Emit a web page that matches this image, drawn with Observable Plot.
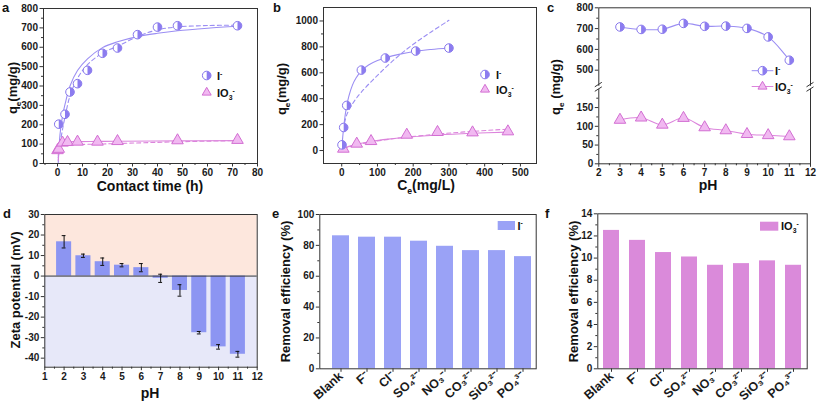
<!DOCTYPE html>
<html><head><meta charset="utf-8">
<script src="https://cdn.jsdelivr.net/npm/d3@7"></script>
<script src="https://cdn.jsdelivr.net/npm/@observablehq/plot@0.6"></script>
<style>
html,body{margin:0;padding:0;background:#fff;}
#fig{position:relative;width:817px;height:408px;overflow:hidden;background:#fff;}
</style></head><body><div id="fig"></div>
<script>
// ---------------- data ----------------
// (a) kinetics
const kinTimeI = [0.5, 3, 5, 8, 12, 18, 24, 32, 40, 48, 72];
const kinQI = [203, 254, 369, 412, 481, 569, 596, 665, 704, 711, 711];
const kinTimeIO3 = [0, 0.5, 2, 4, 8, 16, 24, 48, 72];
const kinQIO3 = [68, 75, 107, 110, 112, 112, 115, 119, 121];
const kinFitTimeI = [0.3, 1, 2, 3, 5, 8, 12, 18, 24, 32, 40, 48, 60, 72];
const kinSolidI = [5, 150, 245, 305, 400, 480, 540, 598, 628, 655, 672, 685, 698, 708];
const kinDashI = [30, 100, 175, 240, 349, 440, 510, 570, 605, 655, 690, 705, 712, 714];
const kinFitTimeIO3 = [0.3, 1, 2, 4, 8, 16, 24, 48, 72];
const kinSolidIO3 = [40, 95, 108, 112, 113, 114, 115, 117, 118];
const kinDashIO3 = [15, 80, 95, 97, 98, 100, 103, 112, 118];
// (b) isotherms
const isoCeI = [0.8, 5.5, 14, 55, 122, 207, 300];
const isoQI = [44, 178, 348, 621, 714, 768, 791];
const isoCeIO3 = [4.5, 42, 82, 182, 268, 366, 465];
const isoQIO3 = [13, 52, 72, 121, 142, 139, 147];
const isoFitCeI = [0.8, 2, 5.5, 10, 14, 20, 30, 40, 55, 75, 100, 122, 160, 207, 250, 300];
const isoSolidI = [44, 80, 180, 280, 345, 420, 505, 560, 615, 660, 695, 715, 742, 766, 780, 792];
const isoDashCeI = [8, 14, 30, 55, 100, 150, 200, 250, 300];
const isoDashI = [215, 275, 360, 451, 580, 709, 820, 915, 1005];
const isoFitCeIO3 = [4.5, 20, 42, 82, 130, 182, 268, 366, 465];
const isoSolidIO3 = [15, 32, 48, 70, 88, 102, 120, 133, 142];
const isoDashIO3 = [12, 28, 44, 66, 86, 103, 127, 148, 165];
// (c) effect of pH (broken y axis: lower 0–200, upper 420–800)
const pHValues = [3, 4, 5, 6, 7, 8, 9, 10, 11];
const pHQI = [708, 696, 697, 725, 711, 712, 701, 660, 548];
const pHQIO3 = [117, 123, 104, 122, 97, 89, 79, 76, 73];
const pHYTicks = [0, 50, 100, 150, 500, 600, 700, 800];
const pHYMinor = [25, 75, 125, 175, 550, 650, 750];
const pHBreak = [200, 420];
// (d) zeta potential
const zetaPH = [2, 3, 4, 5, 6, 7, 8, 9, 10, 11];
const zetaMV = [16.7, 9.9, 7.0, 5.3, 4.1, -1.1, -7.0, -27.6, -34.5, -38.1];
const zetaErr = [3.0, 0.8, 1.8, 0.8, 2.0, 2.0, 2.8, 0.6, 1.1, 1.4];
// (e, f) coexisting anions
const ions = ["Blank", "F⁻", "Cl⁻", "SO₄²⁻", "NO₃⁻", "CO₃²⁻", "SiO₃²⁻", "PO₄³⁻"];
const removalI = [86.2, 85.3, 85.3, 82.7, 79.4, 76.6, 76.6, 72.7];
const removalIO3 = [12.5, 11.6, 10.5, 10.1, 9.35, 9.5, 9.75, 9.35];

// ---------------- helpers ----------------
const FONT = "'Liberation Sans', Arial, Helvetica, sans-serif";
const AX = "#333";
const I_LINE = "#9b8ef3", I_FILL = "#8c7cef", I_STROKE = "#8676ec";
const IO3_LINE = "#dc84dc", IO3_FILL = "#f1b9f1", IO3_STROKE = "#d26ed2";
const fig = document.getElementById("fig");
const baseStyle = {fontFamily: FONT, fontSize: "10px", fontWeight: "bold", color: "#1a1a1a",
  background: "transparent", overflow: "visible", maxWidth: "none"};
const fmt = d => String(d);
const pts = (xs, ys) => xs.map((x, i) => ({x, y: ys[i]}));
const halfRight = {draw(ctx, size) { const r = Math.sqrt(size / Math.PI);
  ctx.moveTo(0, -r); ctx.arc(0, 0, r, -Math.PI / 2, Math.PI / 2); ctx.closePath(); }};

function place(svg, left, top) {
  svg.style.position = "absolute"; svg.style.left = left + "px"; svg.style.top = top + "px";
  fig.appendChild(svg); return svg;
}
function axes(o) {
  const m = [];
  if (o.xMajor !== false) m.push(Plot.axisX({ticks: o.xMajor, tickSize: 3.5, tickPadding: 2, label: null, stroke: AX,
    tickFormat: o.xFormat ?? fmt, tickRotate: o.xRotate, fontSize: o.xFontSize}));
  if (o.xMinor) m.push(Plot.axisX({ticks: o.xMinor, tickSize: 2, label: null, stroke: AX, tickFormat: () => ""}));
  m.push(Plot.axisY({ticks: o.yMajor, tickSize: 3.5, tickPadding: 2, label: null, stroke: AX, tickFormat: o.yFormat ?? fmt}));
  if (o.yMinor) m.push(Plot.axisY({ticks: o.yMinor, tickSize: 2, label: null, stroke: AX, tickFormat: () => ""}));
  return m;
}
function txt(svg, x, y, parts, {size = 13, anchor = "start", rotate = 0} = {}) {
  const t = d3.select(svg).append("text")
    .attr("transform", `translate(${x},${y})` + (rotate ? ` rotate(${rotate})` : ""))
    .attr("text-anchor", anchor).attr("font-size", size).attr("font-weight", "bold")
    .attr("font-family", FONT).attr("fill", "#111");
  if (typeof parts === "string") parts = [[parts, ""]];
  let shift = 0;
  for (const [s, kind] of parts) {
    const target = kind === "sub" ? size * 0.28 : kind === "sup" ? -size * 0.38 : 0;
    t.append("tspan").attr("dy", target - shift).attr("font-size", kind ? size * 0.62 : size).text(s);
    shift = target;
  }
  return t;
}
function legCircle(svg, cx, cy, r) {
  const g = d3.select(svg).append("g");
  g.append("circle").attr("cx", cx).attr("cy", cy).attr("r", r).attr("fill", "#fff").attr("stroke", I_STROKE);
  g.append("path").attr("d", `M${cx},${cy - r}A${r},${r} 0 0 1 ${cx},${cy + r}Z`).attr("fill", I_FILL);
}
function legTri(svg, cx, cy, r) {
  d3.select(svg).append("path").attr("transform", `translate(${cx},${cy})`)
    .attr("d", d3.symbol(d3.symbolTriangle2, r * r * Math.PI)())
    .attr("fill", IO3_FILL).attr("stroke", IO3_STROKE);
}
function markersI(data) {
  return [Plot.dot(data, {x: "x", y: "y", r: 4.3, fill: "#fff", stroke: I_STROKE, strokeWidth: 1}),
          Plot.dot(data, {x: "x", y: "y", r: 4.3, symbol: halfRight, fill: I_FILL})];
}
function markersIO3(data) {
  return [Plot.dot(data, {x: "x", y: "y", r: 4.3, symbol: "triangle", fill: IO3_FILL, stroke: IO3_STROKE, strokeWidth: 1})];
}
const minorBetween = (a, b, step) => d3.range(a + step / 2, b, step);

// ---------------- (a) ----------------
{
  const svg = Plot.plot({
    width: 270, height: 200, marginLeft: 43, marginRight: 13, marginTop: 8, marginBottom: 37,
    style: baseStyle,
    x: {domain: [-5.6, 80]}, y: {domain: [0, 800]},
    marks: [
      ...axes({xMajor: d3.range(0, 81, 10), xMinor: minorBetween(-10, 80, 10),
               yMajor: d3.range(0, 801, 100), yMinor: minorBetween(0, 800, 100)}),
      Plot.line(pts(kinFitTimeI, kinSolidI), {x: "x", y: "y", stroke: I_LINE, strokeWidth: 1.1, curve: "catmull-rom"}),
      Plot.line(pts(kinFitTimeI, kinDashI), {x: "x", y: "y", stroke: I_LINE, strokeWidth: 1.1, strokeDasharray: "4,3", curve: "catmull-rom"}),
      Plot.line(pts(kinFitTimeIO3, kinSolidIO3), {x: "x", y: "y", stroke: IO3_LINE, strokeWidth: 1.1, curve: "catmull-rom"}),
      Plot.line(pts(kinFitTimeIO3, kinDashIO3), {x: "x", y: "y", stroke: IO3_LINE, strokeWidth: 1.1, strokeDasharray: "4,3", curve: "catmull-rom"}),
      ...markersIO3(pts(kinTimeIO3, kinQIO3)),
      ...markersI(pts(kinTimeI, kinQI)),
      Plot.frame({stroke: AX})
    ]
  });
  place(svg, 0, 0);
  txt(svg, 2, 12, "a", {size: 13});
  txt(svg, 150, 191, "Contact time (h)", {size: 14, anchor: "middle"});
  txt(svg, 17, 88, [["q", ""], ["e", "sub"], ["(mg/g)", ""]], {size: 13, anchor: "middle", rotate: -90});
  legCircle(svg, 206.7, 75.5, 4.3); txt(svg, 217, 80, [["I", ""], ["-", "sup"]], {size: 11});
  legTri(svg, 206.7, 92.5, 4.3); txt(svg, 217, 97, [["IO", ""], ["3", "sub"], ["-", "sup"]], {size: 11});
}

// ---------------- (b) ----------------
{
  const svg = Plot.plot({
    width: 270, height: 200, marginLeft: 53, marginRight: 4, marginTop: 7, marginBottom: 37,
    style: baseStyle,
    x: {domain: [-51, 545]}, y: {domain: [-100, 1104]},
    marks: [
      ...axes({xMajor: d3.range(0, 501, 100), xMinor: minorBetween(0, 500, 100),
               yMajor: d3.range(0, 1001, 200), yMinor: minorBetween(0, 1000, 200)}),
      Plot.line(pts(isoFitCeI, isoSolidI), {x: "x", y: "y", stroke: I_LINE, strokeWidth: 1.1, curve: "catmull-rom"}),
      Plot.line(pts(isoDashCeI, isoDashI), {x: "x", y: "y", stroke: I_LINE, strokeWidth: 1.1, strokeDasharray: "4,3", curve: "catmull-rom"}),
      Plot.line(pts(isoFitCeIO3, isoSolidIO3), {x: "x", y: "y", stroke: IO3_LINE, strokeWidth: 1.1, curve: "catmull-rom"}),
      Plot.line(pts(isoFitCeIO3, isoDashIO3), {x: "x", y: "y", stroke: IO3_LINE, strokeWidth: 1.1, strokeDasharray: "4,3", curve: "catmull-rom"}),
      ...markersIO3(pts(isoCeIO3, isoQIO3)),
      ...markersI(pts(isoCeI, isoQI)),
      Plot.frame({stroke: AX})
    ]
  });
  place(svg, 270, 0);
  txt(svg, 3, 12, "b", {size: 13});
  txt(svg, 156, 190, [["C", ""], ["e", "sub"], ["(mg/L)", ""]], {size: 14, anchor: "middle"});
  txt(svg, 16, 89, [["q", ""], ["e", "sub"], ["(mg/g)", ""]], {size: 13, anchor: "middle", rotate: -90});
  legCircle(svg, 215, 74.5, 4.3); txt(svg, 226, 79, [["I", ""], ["-", "sup"]], {size: 11});
  legTri(svg, 215, 89.5, 4.3); txt(svg, 226, 94, [["IO", ""], ["3", "sub"], ["-", "sup"]], {size: 11});
}

// ---------------- (c) ----------------
{
  const W = 277, H = 200, mL = 58.3, mR = 7, mT = 7.3, mB = 36.7;
  // broken axis: values above the break are compressed and shifted (display units)
  const upperScale = 0.5547, gapUnits = 5.3;
  const toDisp = v => v <= pHBreak[0] ? v : pHBreak[0] + gapUnits + (v - pHBreak[1]) * upperScale;
  const dTop = toDisp(800);
  const labelOf = new Map(pHYTicks.map(v => [toDisp(v), String(v)]));
  const dpts = (xs, ys) => xs.map((x, i) => ({x, y: toDisp(ys[i])}));
  const svg = Plot.plot({
    width: W, height: H, marginLeft: mL, marginRight: mR, marginTop: mT, marginBottom: mB,
    style: baseStyle,
    x: {domain: [2, 12]}, y: {domain: [0, dTop]},
    marks: [
      ...axes({xMajor: d3.range(2, 13, 1), xMinor: minorBetween(2, 12, 1),
               yMajor: pHYTicks.map(toDisp), yMinor: pHYMinor.map(toDisp),
               yFormat: d => labelOf.get(d) ?? ""}),
      Plot.line(dpts(pHValues, pHQI), {x: "x", y: "y", stroke: I_LINE, strokeWidth: 1.1, curve: "catmull-rom"}),
      Plot.line(dpts(pHValues, pHQIO3), {x: "x", y: "y", stroke: IO3_LINE, strokeWidth: 1.1, curve: "catmull-rom"}),
      ...markersIO3(dpts(pHValues, pHQIO3)),
      ...markersI(dpts(pHValues, pHQI)),
      Plot.frame({stroke: AX})
    ]
  });
  place(svg, 540, 0);
  // axis break marks
  const ys = d3.scaleLinear().domain([0, dTop]).range([H - mB, mT]);
  const yb = ys(pHBreak[0] + gapUnits / 2);
  const g = d3.select(svg).append("g");
  for (const xb of [mL, W - mR]) {
    g.append("rect").attr("x", xb - 4).attr("y", yb - 1.5).attr("width", 8).attr("height", 3).attr("fill", "#fff");
    g.append("path").attr("d", `M${xb - 3.5},${yb - 0.5}L${xb + 3.5},${yb - 5}M${xb - 3.5},${yb + 4}L${xb + 3.5},${yb - 0.5}`)
      .attr("stroke", AX).attr("fill", "none");
  }
  txt(svg, 7, 12, "c", {size: 13});
  txt(svg, 168, 190, "pH", {size: 14, anchor: "middle"});
  txt(svg, 20, 87, [["q", ""], ["e", "sub"], [" (mg/g)", ""]], {size: 13, anchor: "middle", rotate: -90});
  const lg = d3.select(svg).append("g");
  lg.append("line").attr("x1", 211.7).attr("x2", 233.3).attr("y1", 70.7).attr("y2", 70.7).attr("stroke", I_LINE);
  lg.append("line").attr("x1", 211.7).attr("x2", 233.3).attr("y1", 86.5).attr("y2", 86.5).attr("stroke", IO3_LINE);
  legCircle(svg, 222.5, 70.7, 4.3); txt(svg, 235, 75, [["I", ""], ["-", "sup"]], {size: 11});
  legTri(svg, 222.5, 86.5, 4.3); txt(svg, 235, 91, [["IO", ""], ["3", "sub"], ["-", "sup"]], {size: 11});
}

// ---------------- (d) ----------------
{
  const xDomain = [1, 12], yDomain = [-44.4, 30];
  const zeta = zetaPH.map((p, i) => ({p, v: zetaMV[i], e: zetaErr[i]}));
  const svg = Plot.plot({
    width: 270, height: 208, marginLeft: 44.3, marginRight: 13.3, marginTop: 14, marginBottom: 41.3,
    style: baseStyle,
    x: {domain: xDomain}, y: {domain: yDomain},
    marks: [
      Plot.rect([0], {x1: xDomain[0], x2: xDomain[1], y1: 0, y2: yDomain[1], fill: "#fde7dd"}),
      Plot.rect([0], {x1: xDomain[0], x2: xDomain[1], y1: yDomain[0], y2: 0, fill: "#e7e8f9"}),
      ...axes({xMajor: d3.range(1, 13, 1), xMinor: minorBetween(1, 12, 1),
               yMajor: d3.range(-40, 31, 10), yMinor: minorBetween(-40, 30, 10)}),
      Plot.rect(zeta, {x1: d => d.p - 0.39, x2: d => d.p + 0.39, y1: 0, y2: "v", fill: "#8c95f2"}),
      Plot.ruleY([0], {stroke: AX, strokeWidth: 1}),
      Plot.ruleX(zeta, {x: "p", y1: d => d.v - d.e, y2: d => d.v + d.e, stroke: "#111"}),
      Plot.ruleY(zeta, {y: d => d.v - d.e, x1: d => d.p - 0.1, x2: d => d.p + 0.1, stroke: "#111"}),
      Plot.ruleY(zeta, {y: d => d.v + d.e, x1: d => d.p - 0.1, x2: d => d.p + 0.1, stroke: "#111"}),
      Plot.frame({stroke: AX})
    ]
  });
  place(svg, 0, 200);
  txt(svg, 3, 18, "d", {size: 13});
  txt(svg, 150, 197.5, "pH", {size: 14, anchor: "middle"});
  txt(svg, 20, 90, "Zeta potential (mV)", {size: 13, anchor: "middle", rotate: -90});
}

// ---------------- (e) ----------------
{
  const data = ions.map((ion, i) => ({ion, v: removalI[i]}));
  const svg = Plot.plot({
    width: 270, height: 208, marginLeft: 49.3, marginRight: 4.3, marginTop: 14, marginBottom: 39.7,
    style: baseStyle,
    x: {domain: ions, paddingInner: 0.35, paddingOuter: 0.27, align: 0.74},
    y: {domain: [0, 100]},
    marks: [
      ...axes({xMajor: undefined, xFormat: d => d, xRotate: -42, xFontSize: 12.5,
               yMajor: d3.range(0, 101, 20), yMinor: minorBetween(0, 100, 20)}),
      Plot.barY(data, {x: "ion", y: "v", fill: "#9aa2f6"}),
      Plot.frame({stroke: AX})
    ]
  });
  place(svg, 270, 200);
  txt(svg, 2, 18, "e", {size: 13});
  txt(svg, 20, 91.5, "Removal efficiency (%)", {size: 13, anchor: "middle", rotate: -90});
  d3.select(svg).append("rect").attr("x", 227.7).attr("y", 21).attr("width", 17.3).attr("height", 9).attr("fill", "#9aa2f6");
  txt(svg, 247.5, 29.5, [["I", ""], ["-", "sup"]], {size: 11});
}

// ---------------- (f) ----------------
{
  const data = ions.map((ion, i) => ({ion, v: removalIO3[i]}));
  const svg = Plot.plot({
    width: 277, height: 208, marginLeft: 57.3, marginRight: 10.3, marginTop: 13.3, marginBottom: 39.7,
    style: baseStyle,
    x: {domain: ions, paddingInner: 0.37, paddingOuter: 0.08, align: 0.5},
    y: {domain: [0, 14]},
    marks: [
      ...axes({xMajor: undefined, xFormat: d => d, xRotate: -42, xFontSize: 12.5,
               yMajor: d3.range(0, 15, 2), yMinor: minorBetween(0, 14, 2)}),
      Plot.barY(data, {x: "ion", y: "v", fill: "#da8ada"}),
      Plot.frame({stroke: AX})
    ]
  });
  place(svg, 540, 200);
  txt(svg, 5, 18, "f", {size: 13});
  txt(svg, 38, 91.5, "Removal efficiency (%)", {size: 13, anchor: "middle", rotate: -90});
  d3.select(svg).append("rect").attr("x", 220).attr("y", 21.7).attr("width", 18.3).attr("height", 9).attr("fill", "#da8ada");
  txt(svg, 241, 30, [["IO", ""], ["3", "sub"], ["-", "sup"]], {size: 11});
}
</script></body></html>
